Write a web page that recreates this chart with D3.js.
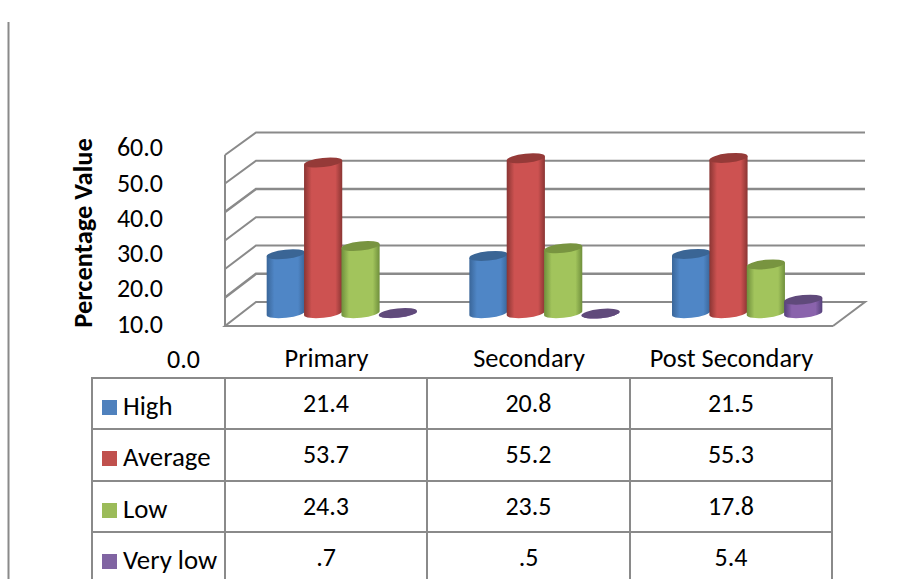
<!DOCTYPE html>
<html><head><meta charset="utf-8">
<script src="https://d3js.org/d3.v7.min.js"></script>
<style>html,body{margin:0;padding:0;background:#fff}svg{display:block}text{font-family:Carlito,Lato,sans-serif;fill:#000}</style>
</head><body><div id="c"></div>
<script>
const categories = ["Primary","Secondary","Post Secondary"];
const seriesNames = ["High","Average","Low","Very low"];
const high = [21.4,20.8,21.5];
const average = [53.7,55.2,55.3];
const low = [24.3,23.5,17.8];
const veryLow = [0.7,0.5,5.4];
const tableHigh = ["21.4","20.8","21.5"];
const tableAverage = ["53.7","55.2","55.3"];
const tableLow = ["24.3","23.5","17.8"];
const tableVeryLow = [".7",".5","5.4"];
const yTicks = [0,10,20,30,40,50,60];
const seriesValues = [high,average,low,veryLow];
const tableRows = [tableHigh,tableAverage,tableLow,tableVeryLow];
const mids = ["#4f86c6","#cd5251","#a2c45c","#8a63ac"];
const darks = ["#3a6699","#8a3533","#6f8f3c","#54407a"];
const tops = ["#3a6595","#953a38","#789440","#604a7b"];

const W=910,H=579;
const svg=d3.select("#c").append("svg").attr("width",W).attr("height",H);
const defs=svg.append("defs");
mids.forEach((m,i)=>{
  const g=defs.append("linearGradient").attr("id","g"+i).attr("x1","0").attr("x2","1").attr("y1","0").attr("y2","0");
  [[0,darks[i]],[.2,m],[.82,m],[1,darks[i]]].forEach(s=>g.append("stop").attr("offset",s[0]).attr("stop-color",s[1]));
});
const LINE="#8a8a8a";
// page rule
svg.append("line").attr("x1",8.5).attr("x2",8.5).attr("y1",22).attr("y2",H).attr("stroke",LINE).attr("stroke-width",2);

// 3D plot geometry
const yFront=d3.scaleLinear().domain([0,60]).range([326,155]);
const yBack=d3.scaleLinear().domain([0,60]).range([302,132.5]);
const frontL=225,frontR=833,backL=256,backR=865;
const grid=svg.append("g").attr("fill","none").attr("stroke",LINE);
yTicks.forEach(t=>{
  const sw=(t===40||t===10)?2.6:2;
  const pts=t===0
    ?[[frontR,yFront(0)],[frontL,yFront(0)],[backL,yBack(0)],[backR,yBack(0)],[frontR,yFront(0)]]
    :[[frontL,yFront(t)],[backL,yBack(t)],[backR,yBack(t)]];
  grid.append("path").attr("d",d3.line()(pts)).attr("stroke-width",sw);
});
grid.append("line").attr("x1",frontL).attr("x2",frontL).attr("y1",yFront(0)).attr("y2",yFront(60)).attr("stroke-width",2);

// bars
const xCat=d3.scaleBand().domain(categories).range([frontL,frontR]);
const xSer=d3.scaleBand().domain(seriesNames).range([-59.25,90.25]);
const barH=d3.scaleLinear().domain([0,60]).range([0,170.4]);
const baseY=315, bottomY=313.2, rx=19.2, ry=4.6, tilt=-6;
const bars=svg.append("g");
categories.forEach((c,ci)=>{
  seriesNames.forEach((s,si)=>{
    const v=seriesValues[si][ci];
    const cx=xCat(c)+xCat.bandwidth()/2+xSer(s)+xSer.bandwidth()/2;
    const h=barH(v);
    const dy=Math.sin(-tilt*Math.PI/180)*rx;
    const dx=Math.cos(tilt*Math.PI/180)*rx;
    const topY=baseY-h;
    const botY=Math.max(bottomY,topY);
    const g=bars.append("g");
    const body=`M${cx-dx},${topY+dy} L${cx-dx},${botY+dy} A${rx},${ry} ${tilt} 0 0 ${cx+dx},${botY-dy} L${cx+dx},${topY-dy} Z`;
    g.append("path").attr("d",body).attr("fill",`url(#g${si})`);
    g.append("ellipse").attr("cx",cx).attr("cy",topY).attr("rx",rx).attr("ry",ry)
      .attr("transform",`rotate(${tilt} ${cx} ${topY})`).attr("fill",tops[si]);
  });
});

// value axis labels
const yLabel=d3.scaleLinear().domain([0,60]).range([359,147.5]);
const yAxis=svg.append("g").attr("transform","translate(163,0)")
  .call(d3.axisLeft(yLabel).tickValues(yTicks).tickSize(0).tickPadding(0).tickFormat(d3.format(".1f")));
yAxis.select(".domain").remove();
yAxis.selectAll("text").attr("font-size",26).style("font-family","Carlito,Lato,sans-serif").attr("fill","#000")
  .attr("dx",d=>d===0?37:0);

// axis title
svg.append("text").attr("transform","translate(92,233) rotate(-90)").attr("text-anchor","middle")
  .attr("font-size",26.5).attr("font-weight",700).text("Percentage Value");

// table
const colX=[92,225,427,630,832];
const rowY=[378,429,481,532,H+8];
const tbl=svg.append("g").attr("stroke",LINE).attr("stroke-width",2);
colX.forEach(x=>tbl.append("line").attr("x1",x).attr("x2",x).attr("y1",rowY[0]).attr("y2",H));
rowY.slice(0,4).forEach(y=>tbl.append("line").attr("x1",colX[0]-1).attr("x2",colX[4]+1).attr("y1",y).attr("y2",y));

// category labels
const xLabel=d3.scalePoint().domain(categories).range([326,731]);
const xAxis=svg.append("g").attr("transform","translate(0,367)")
  .call(d3.axisBottom(xLabel).tickSize(0).tickPadding(0));
xAxis.select(".domain").remove();
xAxis.selectAll("text").attr("font-size",26.4).style("font-family","Carlito,Lato,sans-serif").attr("fill","#000").attr("y",0).attr("dy","0");

// table contents
const swatches=["#4f81bd","#c0504d","#9bbb59","#8064a2"];
seriesNames.forEach((s,i)=>{
  svg.append("rect").attr("x",102).attr("y",rowY[i]+22).attr("width",15).attr("height",15).attr("fill",swatches[i]);
  svg.append("text").attr("x",123).attr("y",rowY[i]+37).attr("font-size",26.8).text(s);
  categories.forEach((c,ci)=>{
    svg.append("text").attr("x",xLabel(c)).attr("y",rowY[i]+34).attr("text-anchor","middle").attr("font-size",26).text(tableRows[i][ci]);
  });
});
</script></body></html>
